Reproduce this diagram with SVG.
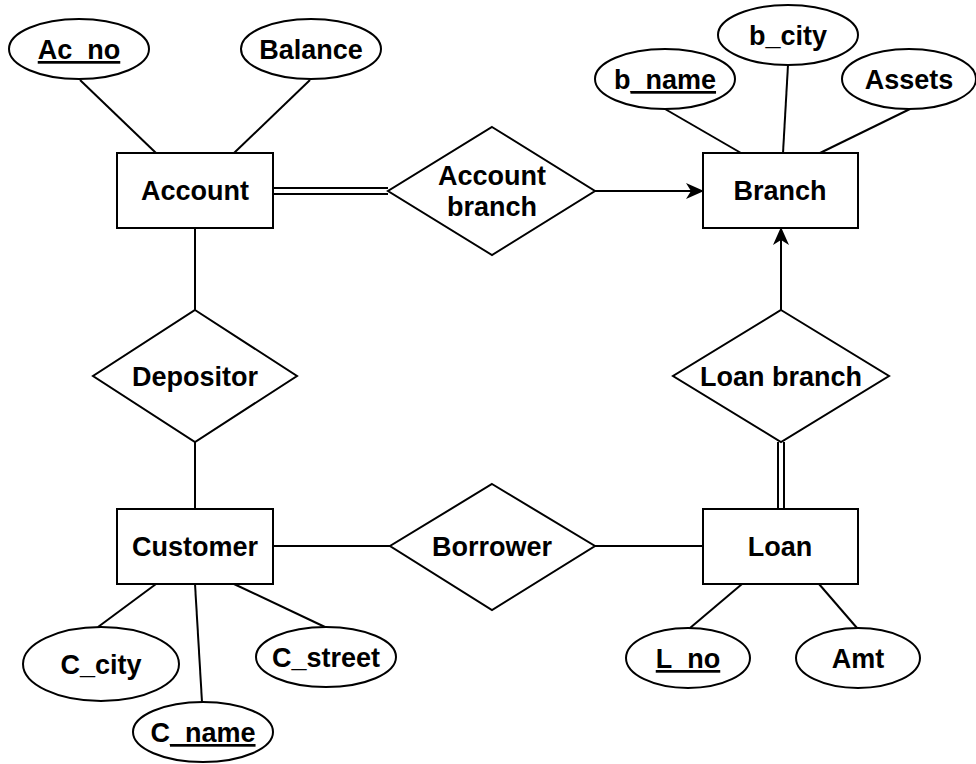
<svg xmlns="http://www.w3.org/2000/svg" width="976" height="764" viewBox="0 0 976 764">
<style>
.shape{fill:#fff;stroke:#000;stroke-width:2}
.ln{fill:none;stroke:#000;stroke-width:2}
text{font-family:"Liberation Sans",Arial,sans-serif;font-weight:bold;font-size:27px;text-anchor:middle;fill:#000}
.u{text-decoration:underline}
</style>
<defs>
<marker id="arr" markerWidth="18" markerHeight="16" viewBox="0 0 18 16" refX="17" refY="8" orient="auto" markerUnits="userSpaceOnUse">
<path d="M0,0 L18,8 L0,16 L5,8 Z" fill="#000"/>
</marker>
</defs>
<rect width="976" height="764" fill="#fff"/>
<g id="connectors">
<line class="ln" x1="80" y1="80" x2="156" y2="153"/>
<line class="ln" x1="310" y1="80" x2="234" y2="153"/>
<line class="ln" x1="665" y1="109" x2="741" y2="153"/>
<line class="ln" x1="788" y1="65" x2="783" y2="153"/>
<line class="ln" x1="910" y1="109" x2="820" y2="153"/>
<line class="ln" x1="273" y1="188" x2="388" y2="188"/>
<line class="ln" x1="273" y1="194" x2="388" y2="194"/>
<line class="ln" x1="595" y1="191" x2="703" y2="191" marker-end="url(#arr)"/>
<line class="ln" x1="195" y1="228" x2="195" y2="310"/>
<line class="ln" x1="195" y1="442" x2="195" y2="509"/>
<line class="ln" x1="781" y1="310" x2="781" y2="228" marker-end="url(#arr)"/>
<line class="ln" x1="778" y1="442" x2="778" y2="509"/>
<line class="ln" x1="784" y1="442" x2="784" y2="509"/>
<line class="ln" x1="273" y1="546" x2="390" y2="546"/>
<line class="ln" x1="595" y1="546" x2="703" y2="546"/>
<line class="ln" x1="156" y1="584" x2="98" y2="627"/>
<line class="ln" x1="195" y1="584" x2="202" y2="702"/>
<line class="ln" x1="234" y1="584" x2="325" y2="627"/>
<line class="ln" x1="742" y1="584" x2="690" y2="628"/>
<line class="ln" x1="819" y1="584" x2="857" y2="628"/>
</g>
<g id="account">
<rect class="shape" x="117" y="153" width="156" height="75"/>
<text x="195" y="200">Account</text>
</g>
<g id="ac_no">
<ellipse class="shape" cx="79" cy="49" rx="70" ry="30"/>
<text x="79" y="59" class="u">Ac_no</text>
</g>
<g id="balance">
<ellipse class="shape" cx="311" cy="49" rx="70" ry="30"/>
<text x="311" y="59">Balance</text>
</g>
<g id="branch">
<rect class="shape" x="703" y="153" width="155" height="75"/>
<text x="780" y="200">Branch</text>
</g>
<g id="b_name">
<ellipse class="shape" cx="665" cy="79" rx="70" ry="30"/>
<text x="665" y="89">b<tspan class="u">_name</tspan></text>
</g>
<g id="b_city">
<ellipse class="shape" cx="788" cy="35" rx="70" ry="30"/>
<text x="788" y="45">b_city</text>
</g>
<g id="assets">
<ellipse class="shape" cx="909" cy="79" rx="67" ry="30"/>
<text x="909" y="89">Assets</text>
</g>
<g id="account_branch">
<polygon class="shape" points="492,127 595,191 492,255 388,191"/>
<text x="492" y="185">Account</text>
<text x="492" y="216">branch</text>
</g>
<g id="depositor">
<polygon class="shape" points="195,310 297,376 195,442 93,376"/>
<text x="195" y="386">Depositor</text>
</g>
<g id="loan_branch">
<polygon class="shape" points="781,310 889,376 781,442 673,376"/>
<text x="781" y="386">Loan branch</text>
</g>
<g id="customer">
<rect class="shape" x="117" y="509" width="156" height="75"/>
<text x="195" y="556">Customer</text>
</g>
<g id="c_city">
<ellipse class="shape" cx="101" cy="664" rx="78" ry="37"/>
<text x="101" y="674">C_city</text>
</g>
<g id="c_name">
<ellipse class="shape" cx="203" cy="732" rx="70" ry="30"/>
<text x="203" y="742">C<tspan class="u">_name</tspan></text>
</g>
<g id="c_street">
<ellipse class="shape" cx="326" cy="657" rx="70" ry="30"/>
<text x="326" y="667">C_street</text>
</g>
<g id="borrower">
<polygon class="shape" points="492,484 595,546 492,610 390,546"/>
<text x="492" y="556">Borrower</text>
</g>
<g id="loan">
<rect class="shape" x="703" y="509" width="155" height="75"/>
<text x="780" y="556">Loan</text>
</g>
<g id="l_no">
<ellipse class="shape" cx="688" cy="658" rx="62" ry="30"/>
<text x="688" y="668" class="u">L_no</text>
</g>
<g id="amt">
<ellipse class="shape" cx="858" cy="658" rx="62" ry="30"/>
<text x="858" y="668">Amt</text>
</g>
</svg>
